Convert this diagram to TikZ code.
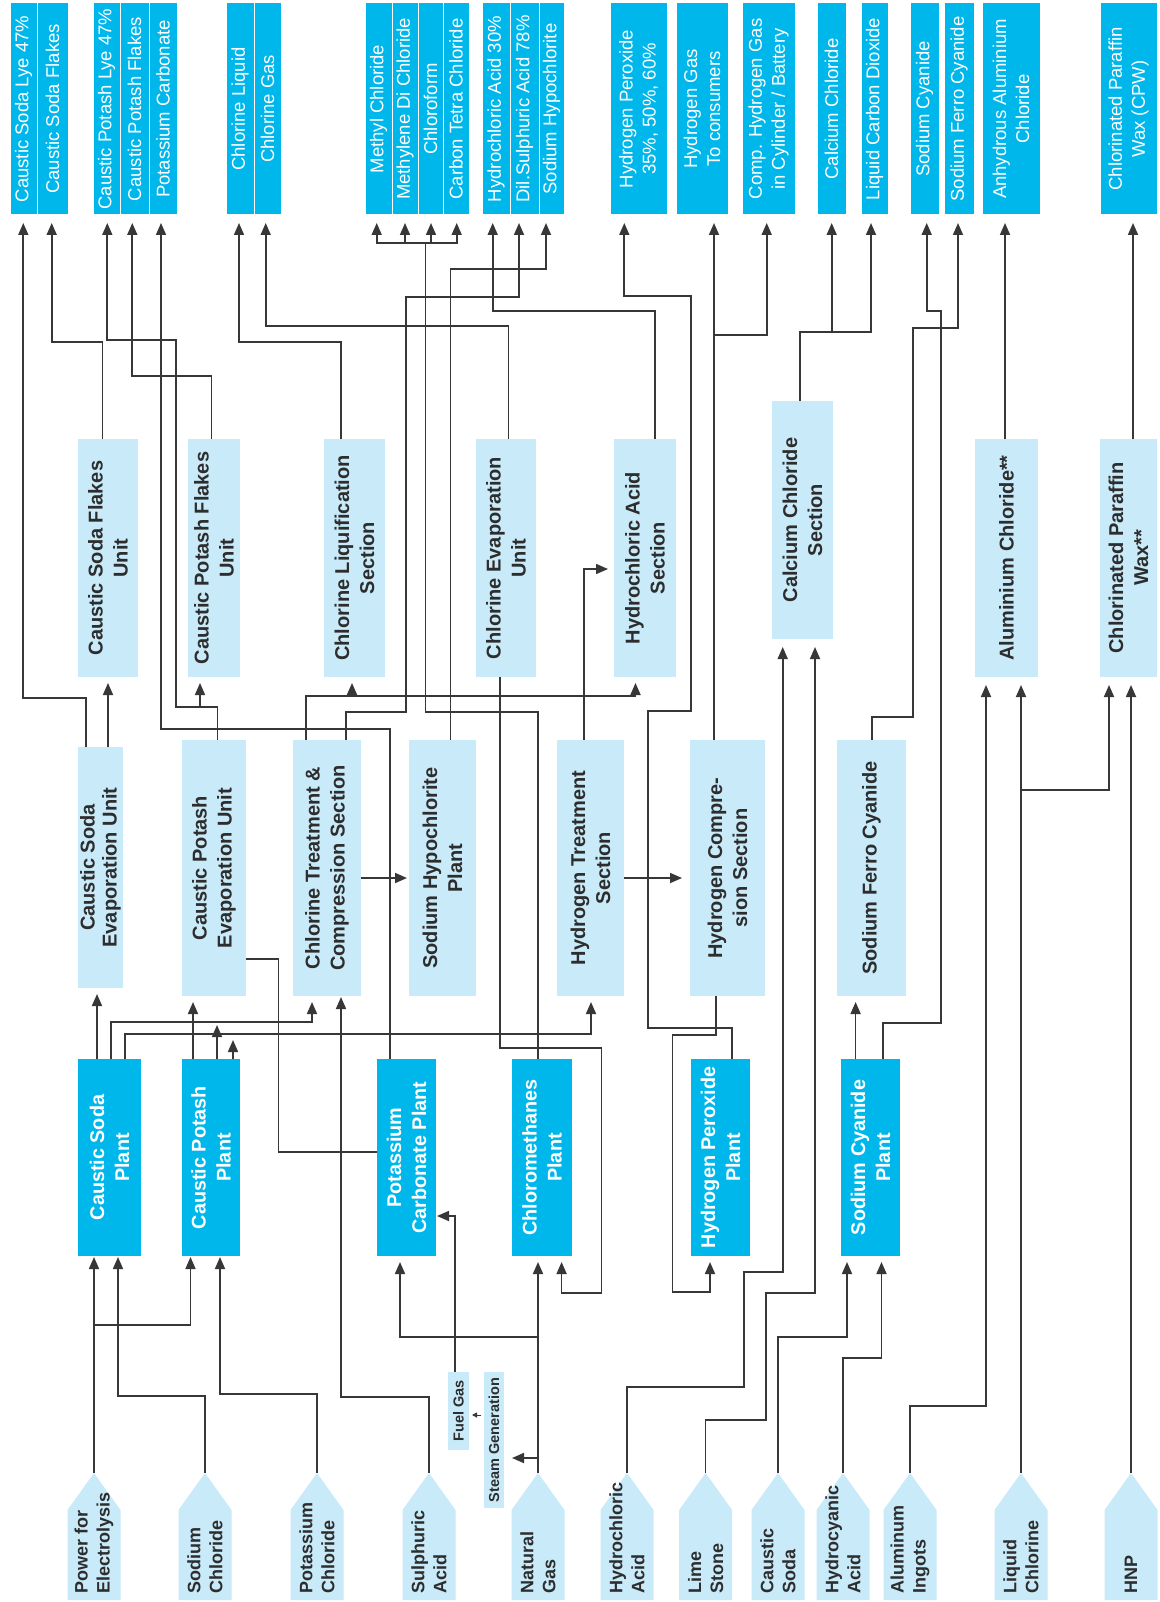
\documentclass[tikz,border=0pt]{standalone}
\usepackage{fontspec}
\setmainfont{Liberation Sans}
\usetikzlibrary{arrows.meta}
\definecolor{cyanD}{RGB}{0,183,236}
\definecolor{lightB}{RGB}{200,234,249}
\definecolor{lineC}{RGB}{55,55,55}
\definecolor{txtD}{RGB}{45,45,45}
\newcommand{\mkbox}[8]{\node[#2, anchor=north west, minimum width=#5pt, minimum height=#6pt] (#1) at (#3,#4) {}; \node[#7] at (#1.center) {#8};}
\newcommand{\mkin}[3]{\node[inbox, anchor=north, minimum width=53pt, minimum height=127pt] (#1) at (#2,1473) {};
 \fill[lightB] (#1.south west) -- (#1.south east) -- ++(0,-90) -- (#1.north) -- ++(-26.5,37) -- cycle;
 \node[intxt] at (#2,1594) {#3};}
\begin{document}
\begin{tikzpicture}[x=1pt,y=-1pt,
  topbox/.style={fill=cyanD, draw=white, line width=1pt, inner sep=0pt, outer sep=0pt},
  plantbox/.style={fill=cyanD, draw=none, inner sep=0pt, outer sep=0pt},
  unitbox/.style={fill=lightB, draw=none, inner sep=0pt, outer sep=0pt},
  inbox/.style={draw=none, fill=none, inner sep=0pt, outer sep=0pt},
  toptxt/.style={rotate=90, align=center, text=white, font=\fontsize{18.5}{23}\selectfont, inner sep=0pt},
  planttxt/.style={rotate=90, align=center, text=white, font=\fontsize{19.8}{25}\selectfont\bfseries, inner sep=0pt},
  unittxt/.style={rotate=90, align=center, text=txtD, font=\fontsize{20}{25}\selectfont\bfseries, inner sep=0pt},
  intxt/.style={rotate=90, anchor=west, align=left, text=txtD, font=\fontsize{18}{22}\selectfont\bfseries, inner sep=0pt},
  smalltxt/.style={rotate=90, align=center, text=txtD, font=\fontsize{14.5}{16}\selectfont\bfseries, inner sep=0pt},
  ln/.style={draw=lineC, line width=1.7pt},
  arr/.style={ln, -{Triangle[length=12pt,width=10pt]}, shorten >=6pt},
  arrT/.style={ln, -{Triangle[length=12pt,width=10pt]}, shorten >=8pt},
  arrI/.style={ln, -{Triangle[length=12pt,width=10pt]}, shorten >=1pt},
]
\useasboundingbox (0,0) rectangle (1159,1602);
\fill[white] (0,0) rectangle (1159,1602);

% ---------- top products ----------
\mkbox{T1}{topbox}{10}{3}{27}{212}{toptxt}{Caustic Soda Lye 47\%}
\mkbox{T2}{topbox}{37}{3}{31}{212}{toptxt}{Caustic Soda Flakes}
\mkbox{T3}{topbox}{93}{3}{27}{212}{toptxt}{Caustic Potash Lye 47\%}
\mkbox{T4}{topbox}{120}{3}{29}{212}{toptxt}{Caustic Potash Flakes}
\mkbox{T5}{topbox}{149}{3}{28}{212}{toptxt}{Potassium Carbonate}
\mkbox{T6}{topbox}{226}{3}{28}{212}{toptxt}{Chlorine Liquid}
\mkbox{T7}{topbox}{254}{3}{27}{212}{toptxt}{Chlorine Gas}
\mkbox{T8}{topbox}{365}{3}{27}{212}{toptxt}{Methyl Chloride}
\mkbox{T9}{topbox}{392}{3}{26}{212}{toptxt}{Methylene Di Chloride}
\mkbox{T10}{topbox}{418}{3}{25}{212}{toptxt}{Chloroform}
\mkbox{T11}{topbox}{443}{3}{26}{212}{toptxt}{Carbon Tetra Chloride}
\mkbox{T12}{topbox}{482}{3}{28}{212}{toptxt}{Hydrochloric Acid 30\%}
\mkbox{T13}{topbox}{510}{3}{29}{212}{toptxt}{Dil.Sulphuric Acid 78\%}
\mkbox{T14}{topbox}{539}{3}{25}{212}{toptxt}{Sodium Hypochlorite}
\mkbox{T15}{topbox}{610}{3}{57}{212}{toptxt}{Hydrogen Peroxide\\35\%, 50\%, 60\%}
\mkbox{T16}{topbox}{676}{3}{52}{212}{toptxt}{Hydrogen Gas\\To consumers}
\mkbox{T17}{topbox}{742}{3}{53}{212}{toptxt}{Comp. Hydrogen Gas\\in Cylinder / Battery}
\mkbox{T18}{topbox}{817}{3}{29}{212}{toptxt}{Calcium Chloride}
\mkbox{T19}{topbox}{861}{3}{27}{212}{toptxt}{Liquid Carbon Dioxide}
\mkbox{T20}{topbox}{910}{3}{29}{212}{toptxt}{Sodium Cyanide}
\mkbox{T21}{topbox}{944}{3}{30}{212}{toptxt}{Sodium Ferro Cyanide}
\mkbox{T22}{topbox}{982}{3}{58}{212}{toptxt}{Anhydrous Aluminium\\Chloride}
\mkbox{T23}{topbox}{1100}{3}{57}{212}{toptxt}{Chlorinated Paraffin\\Wax (CPW)}

% ---------- second row units ----------
\mkbox{U1}{unitbox}{78}{439}{60}{238}{unittxt}{Caustic Soda Flakes\\Unit}
\mkbox{U2}{unitbox}{188}{439}{52}{238}{unittxt}{Caustic Potash Flakes\\Unit}
\mkbox{U3}{unitbox}{324}{439}{61}{238}{unittxt}{Chlorine Liquification\\Section}
\mkbox{U4}{unitbox}{476}{439}{60}{238}{unittxt}{Chlorine Evaporation\\Unit}
\mkbox{U5}{unitbox}{614}{439}{62}{238}{unittxt}{Hydrochloric Acid\\Section}
\mkbox{U6}{unitbox}{772}{401}{61}{238}{unittxt}{Calcium Chloride\\Section}
\mkbox{U7}{unitbox}{975}{439}{63}{238}{unittxt}{Aluminium Chloride**}
\mkbox{U8}{unitbox}{1100}{439}{57}{238}{unittxt}{Chlorinated Paraffin\\Wax**}

% ---------- third row ----------
\mkbox{CSEU}{unitbox}{78}{747}{45}{241}{unittxt, font=\fontsize{20}{22}\selectfont\bfseries}{Caustic Soda\\Evaporation Unit}
\mkbox{CPEU}{unitbox}{182}{740}{64}{256}{unittxt}{Caustic Potash\\Evaporation Unit}
\mkbox{CTCS}{unitbox}{293}{740}{68}{256}{unittxt}{Chlorine Treatment \&\\Compression Section}
\mkbox{SHP}{unitbox}{409}{740}{67}{256}{unittxt}{Sodium Hypochlorite\\Plant}
\mkbox{HTS}{unitbox}{557}{740}{67}{256}{unittxt}{Hydrogen Treatment\\Section}
\mkbox{HCS}{unitbox}{690}{740}{75}{256}{unittxt}{Hydrogen Compre-\\sion Section}
\mkbox{SFC}{unitbox}{837}{740}{69}{256}{unittxt}{Sodium Ferro Cyanide}

% ---------- plants ----------
\mkbox{CSP}{plantbox}{78}{1059}{63}{197}{planttxt}{Caustic Soda\\Plant}
\mkbox{CPP}{plantbox}{182}{1059}{58}{197}{planttxt}{Caustic Potash\\Plant}
\mkbox{PCP}{plantbox}{377}{1059}{59}{197}{planttxt}{Potassium\\Carbonate Plant}
\mkbox{CMP}{plantbox}{512}{1059}{60}{197}{planttxt}{Chloromethanes\\Plant}
\mkbox{HPP}{plantbox}{691}{1059}{59}{197}{planttxt}{Hydrogen Peroxide\\Plant}
\mkbox{SCP}{plantbox}{841}{1059}{59}{197}{planttxt}{Sodium Cyanide\\Plant}

% ---------- small boxes ----------
\mkbox{FG}{unitbox}{448}{1372}{21}{78}{smalltxt}{Fuel Gas}
\mkbox{SG}{unitbox}{484}{1372}{20}{136}{smalltxt}{Steam Generation}

% ---------- inputs ----------
\mkin{I1}{94}{Power for\\Electrolysis}
\mkin{I2}{205}{Sodium\\Chloride}
\mkin{I3}{317}{Potassium\\Chloride}
\mkin{I4}{429}{Sulphuric\\Acid}
\mkin{I5}{538}{Natural\\Gas}
\mkin{I6}{627}{Hydrochloric\\Acid}
\mkin{I7}{705.6}{Lime\\Stone}
\mkin{I8}{778}{Caustic\\Soda}
\mkin{I9}{843}{Hydrocyanic\\Acid}
\mkin{I10}{910}{Aluminum\\Ingots}
\mkin{I11}{1021}{Liquid\\Chlorine}
\mkin{I12}{1131}{HNP}

% ---------- connectors to top products ----------
\draw[arrT] (CSEU.north -| 86,0) |- (23.3,698) -- (T1.south -| 23.3,0);
\draw[arr] (CSEU.north -| 108,0) -- (U1.south -| 108,0);
\draw[arrT] (U1.north -| 102.5,0) |- (51.7,342) -- (T2.south -| 51.7,0);
\draw[arrT] (CPEU.north -| 217.5,0) |- (176,707) |- (107.3,340) -- (T3.south -| 107.3,0);
\coordinate (cpb) at (200,707);
\draw[arr] (cpb) -- (U2.south -| 200,0);
\draw[arrT] (U2.north -| 211.6,0) |- (132.3,376) -- (T4.south -| 132.3,0);
\draw[arrT] (PCP.north -| 390,0) |- (161,729) -- (T5.south -| 161,0);
\draw[arrT] (U3.north -| 341,0) |- (239,342) -- (T6.south -| 239,0);
\draw[arrT] (U4.north -| 508.6,0) |- (265.7,326) -- (T7.south -| 265.7,0);
\draw[arr] (CTCS.north -| 306,0) |- (635.5,696) -- (U5.south -| 635.5,0);
\coordinate (clb) at (352,696);
\draw[arr] (clb) -- (U3.south -| 352,0);
\draw[arrT] (CTCS.north -| 346,0) |- (406,712) |- (519,297) -- (T13.south -| 519,0);
\draw[ln] (CMP.north -| 538,0) |- (425.5,712) -- (425.5,243);
\coordinate (cmj) at (425.5,243);
\draw[arrT] (cmj) -| (T8.south -| 376.7,0);
\draw[arrT] (cmj) -| (T9.south -| 405,0);
\draw[arrT] (cmj) -| (T10.south -| 431,0);
\draw[arrT] (cmj) -| (T11.south -| 456.7,0);
\draw[arrT] (SHP.north -| 450.6,0) |- (546,269) -- (T14.south -| 546,0);
\draw[arrT] (U5.north -| 654.7,0) |- (492.7,311) -- (T12.south -| 492.7,0);
\draw[arr] (HTS.north -| 584,0) |- (U5.west |- 0,569);
\draw[arrT] (HPP.north -| 731.7,0) |- (647.7,1028) |- (691,711) |- (624.3,296) -- (T15.south -| 624.3,0);
\draw[arrT] (HCS.north -| 714,0) -- (T16.south -| 714,0);
\coordinate (h2b) at (714,335);
\draw[arrT] (h2b) -| (T17.south -| 766.7,0);
\draw[arrT] (U6.north -| 800,0) |- (871,332) -- (T19.south -| 871,0);
\coordinate (cab) at (831.7,332);
\draw[arrT] (cab) -- (T18.south -| 831.7,0);
\draw[arrT] (SCP.north -| 883,0) |- (940.7,1023) |- (926.7,311) -- (T20.south -| 926.7,0);
\draw[arrT] (SFC.north -| 872,0) |- (913,717) |- (958,328) -- (T21.south -| 958,0);
\draw[arrT] (U7.north -| 1005,0) -- (T22.south -| 1005,0);
\draw[arrT] (U8.north -| 1133,0) -- (T23.south -| 1133,0);

% ---------- middle connectors ----------
\draw[arr, shorten >=2pt] (CTCS.east |- 0,878) -- (SHP.west |- 0,878);
\draw[arr, shorten >=8pt] (HTS.east |- 0,878) -- (HCS.west |- 0,878);
\draw[arr] (CSP.north -| 97,0) -- (CSEU.south -| 97,0);
\draw[arr] (CSP.north -| 111,0) |- (312,1022) -- (CTCS.south -| 312,0);
\draw[arr] (CSP.north -| 125,0) |- (591,1034) -- (HTS.south -| 591,0);
\draw[arr] (CPP.north -| 193,0) -- (CPEU.south -| 193,0);
\coordinate (cp1) at (217,1025);
\coordinate (cp2) at (233,1040);
\draw[arrI, shorten >=0pt] (CPP.north -| 217,0) -- (cp1);
\draw[arrI, shorten >=0pt] (CPP.north -| 233,0) -- (cp2);
\draw[ln] (CPEU.east |- 0,959) -| (278.6,1152) -- (PCP.west |- 0,1152);
\draw[arr] (U4.south -| 500,0) |- (601.5,1048) |- (561.6,1293) -- (CMP.south -| 561.6,0);
\draw[arr] (HCS.south -| 716,0) |- (672.5,1035) |- (710,1292) -- (HPP.south -| 710,0);
\draw[arr] (SCP.north -| 855.6,0) -- (SFC.south -| 855.6,0);

% ---------- input connectors ----------
\draw[arrI] (I1.north) -- (CSP.south -| 94,0);
\coordinate (pwb) at (94,1325);
\draw[arrI] (pwb) -| (CPP.south -| 190.5,0);
\draw[arrI] (I2.north) |- (118,1396) -- (CSP.south -| 118,0);
\draw[arrI] (I3.north) |- (220,1394) -- (CPP.south -| 220,0);
\draw[arrI] (I4.north) |- (341,1397) -- (CTCS.south -| 341,0);
\draw[arr] (I5.north) -- (CMP.south -| 538,0);
\coordinate (ngb) at (538,1337);
\draw[arr] (ngb) -| (PCP.south -| 400,0);
\coordinate (ngs) at (538,1458);
\draw[arr, shorten >=8pt] (ngs) -- (SG.east |- 0,1458);
\draw[draw=lineC, line width=1pt, -{Triangle[length=5pt,width=5pt]}, shorten >=3pt, shorten <=3pt] (SG.west |- 0,1415) -- (FG.east |- 0,1415);
\draw[arrI] (FG.north -| 455,0) |- (PCP.east |- 0,1216);
\draw[arr, shorten >=8pt] (I6.north) |- (744,1387) |- (782.7,1272) -- (U6.south -| 782.7,0);
\draw[arr, shorten >=8pt] (I7.north) |- (766,1420) |- (815,1293) -- (U6.south -| 815,0);
\draw[arr] (I8.north) |- (847,1337) -- (SCP.south -| 847,0);
\draw[arr] (I9.north) |- (881.5,1358) -- (SCP.south -| 881.5,0);
\draw[arrT] (I10.north) |- (986,1406) -- (U7.south -| 986,0);
\draw[arrT] (I11.north) -- (U7.south -| 1021,0);
\coordinate (lcb) at (1021,790);
\draw[arrT] (lcb) -| (U8.south -| 1109,0);
\draw[arrT] (I12.north) -- (U8.south -| 1131,0);
\end{tikzpicture}
\end{document}
